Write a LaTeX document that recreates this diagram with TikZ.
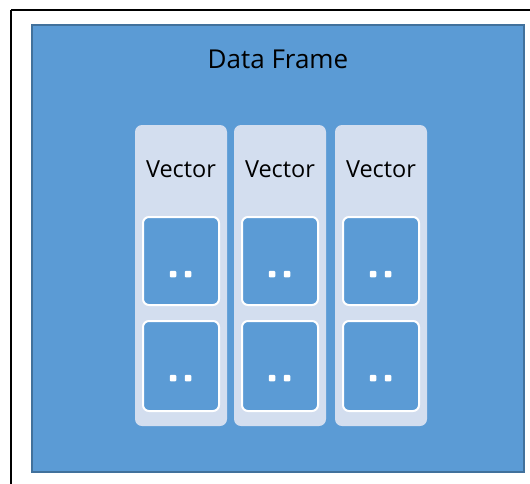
\documentclass[tikz,border=0pt]{standalone}
\usepackage{fontspec}
\setmainfont{Open Sans}
\definecolor{frameblue}{HTML}{5B9BD5}
\definecolor{frameedge}{HTML}{41719C}
\definecolor{colfill}{HTML}{D3DEEF}
\tikzset{
  dfbox/.style={draw=frameedge, line width=2pt, fill=frameblue},
  vecbox/.style={fill=colfill, rounded corners=7pt},
  cellbox/.style={draw=white, line width=2pt, fill=frameblue, rounded corners=6pt},
  dotbox/.style={fill=white, minimum size=6.5pt, inner sep=0pt, rounded corners=1pt},
  lbl/.style={font=\fontsize{23.5}{26}\selectfont, text=black},
  ttl/.style={font=\fontsize{26}{30}\selectfont, text=black}
}
\begin{document}
\begin{tikzpicture}[x=1pt,y=-1pt]
\useasboundingbox (0,0) rectangle (530,483);
\fill[white] (0,0) rectangle (530,483);
\draw[line width=1.5pt] (11,10) -- (540,10) (11,10) -- (11,495);
\draw[dfbox] (32,25) rectangle (524,472);
\node[ttl] (title) at (278,59) {Data Frame};
\foreach \i/\x in {1/135,2/234,3/335}{
  \fill[vecbox] (\x,125) rectangle ++(92,301);
  \node[lbl] (v\i) at (\x+46,169) {Vector};
  \draw[cellbox] (\x+8,217) rectangle ++(76,88);
  \draw[cellbox] (\x+8,321) rectangle ++(76,90);
  \node[dotbox] (a\i) at (\x+38,274) {};
  \node[dotbox] (b\i) at (\x+53,274) {};
  \node[dotbox] (c\i) at (\x+38,378) {};
  \node[dotbox] (d\i) at (\x+53,378) {};
}
\end{tikzpicture}
\end{document}
